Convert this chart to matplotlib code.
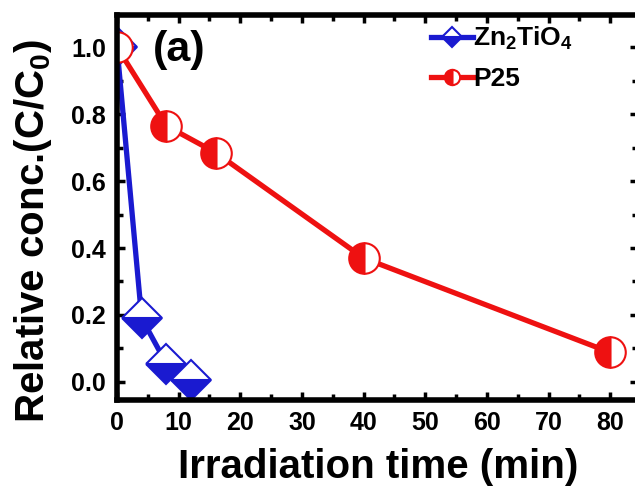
import matplotlib
matplotlib.use("Agg")
import matplotlib.pyplot as plt
from matplotlib.ticker import MultipleLocator

# Photocatalytic degradation data
zn_time = [0, 4, 8, 12]
zn_conc = [1.0, 0.19, 0.055, 0.005]
p25_time = [0, 8, 16, 40, 80]
p25_conc = [1.0, 0.765, 0.685, 0.37, 0.088]

plt.rcParams['font.family'] = ['Liberation Sans', 'DejaVu Sans']
plt.rcParams['font.weight'] = 'bold'
plt.rcParams['mathtext.default'] = 'regular'

fig = plt.figure(figsize=(6.35, 4.88), dpi=100)
ax = fig.add_axes([117 / 635, 1 - 400 / 488, (638 - 117) / 635, (400 - 15) / 488])

ax.plot(zn_time, zn_conc, color='#1a1ad0', lw=3.8, marker='D', markersize=20,
        fillstyle='bottom', markerfacecolor='#1a1ad0', markerfacecoloralt='white',
        markeredgecolor='#1a1ad0', markeredgewidth=1.5, label='Zn$_2$TiO$_4$')
ax.plot(p25_time, p25_conc, color='#ee1111', lw=3.8, marker='o', markersize=22,
        fillstyle='left', markerfacecolor='#ee1111', markerfacecoloralt='white',
        markeredgecolor='#ee1111', markeredgewidth=1.5, label='P25')

ax.set_xlim(0, 84.5)
ax.set_ylim(-0.054, 1.096)
ax.xaxis.set_major_locator(MultipleLocator(10))
ax.xaxis.set_minor_locator(MultipleLocator(5))
ax.yaxis.set_major_locator(MultipleLocator(0.2))
ax.yaxis.set_minor_locator(MultipleLocator(0.1))
ax.tick_params(which='both', direction='in', top=True, right=True, width=2.5)
ax.tick_params(which='major', length=6, labelsize=18, pad=8)
ax.tick_params(which='minor', length=4)
for s in ax.spines.values():
    s.set_linewidth(4)

ax.set_xlabel('Irradiation time (min)', fontsize=29, fontweight='bold')
ax.set_ylabel('Relative conc.(C/C$_0$)', fontsize=29, fontweight='bold')
ax.xaxis.set_label_coords(0.501, -0.125)
ax.yaxis.set_label_coords(-0.12, 0.44)
ax.text(0.068, 0.909, '(a)', transform=ax.transAxes, fontsize=31, fontweight='bold',
        va='center')

leg = ax.legend(loc='upper left', bbox_to_anchor=(0.557, 1.035), frameon=False,
                fontsize=19, handlelength=1.6, markerscale=0.5, handletextpad=0.0,
                labelspacing=0.55)

fig.savefig('out.png', dpi=100)
